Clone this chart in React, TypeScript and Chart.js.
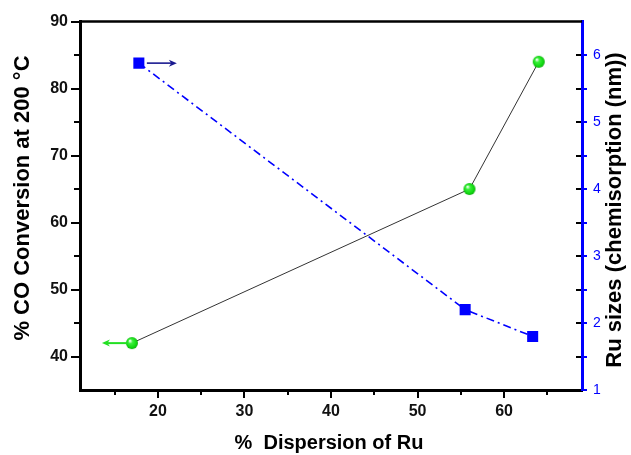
import React, { useEffect, useRef } from "react";
import { Chart, registerables } from "chart.js";

Chart.register(...registerables);

// ---- Data ----
const dispersionCO = [17, 56, 64];
const coConversion = [42, 65, 84];
const dispersionRu = [17.8, 55.5, 63.3];
const ruSizes = [5.88, 2.2, 1.8];

// ---- Ticks ----
const xMajor = [20, 30, 40, 50, 60];
const xMinor = [15, 25, 35, 45, 55, 65];
const yMajor = [40, 50, 60, 70, 80, 90];
const yMinor = [45, 55, 65, 75, 85];
const y1Major = [1, 2, 3, 4, 5, 6];
const y1Minor = [1.5, 2.5, 3.5, 4.5, 5.5];

const xTitle = "%  Dispersion of Ru";
const yTitle = "% CO Conversion at 200 °C";
const y1Title = "Ru sizes (chemisorption (nm))";

const FONT = "Arial, 'Liberation Sans', Helvetica, sans-serif";

function makeBall(r: number): HTMLCanvasElement {
  const c = document.createElement("canvas");
  const s = Math.ceil(r * 2 + 2);
  c.width = s;
  c.height = s;
  const g = c.getContext("2d")!;
  const cx = s / 2;
  const grad = g.createRadialGradient(cx - r * 0.35, cx - r * 0.4, r * 0.1, cx, cx, r);
  grad.addColorStop(0, "#e8ffe8");
  grad.addColorStop(0.3, "#3cf03c");
  grad.addColorStop(0.8, "#10d810");
  grad.addColorStop(1, "#0aa80a");
  g.fillStyle = grad;
  g.beginPath();
  g.arc(cx, cx, r, 0, Math.PI * 2);
  g.fill();
  return c;
}

function arrow(ctx: CanvasRenderingContext2D, x0: number, y: number, x1: number, color: string, w: number) {
  const dir = Math.sign(x1 - x0);
  const head = 8;
  ctx.save();
  ctx.strokeStyle = color;
  ctx.fillStyle = color;
  ctx.lineWidth = w;
  ctx.beginPath();
  ctx.moveTo(x0, y);
  ctx.lineTo(x1 - dir * head * 0.6, y);
  ctx.stroke();
  ctx.beginPath();
  ctx.moveTo(x1, y);
  ctx.lineTo(x1 - dir * head, y - 3.5);
  ctx.lineTo(x1 - dir * head * 0.7, y);
  ctx.lineTo(x1 - dir * head, y + 3.5);
  ctx.closePath();
  ctx.fill();
  ctx.restore();
}

const decorPlugin = {
  id: "decor",
  afterDatasetsDraw(chart: any) {
    const ctx = chart.ctx as CanvasRenderingContext2D;
    const xs = chart.scales.x;
    const ys = chart.scales.y;
    const y1s = chart.scales.y1;
    // arrows pointing to the axis each series belongs to
    const gx = xs.getPixelForValue(dispersionCO[0]);
    const gy = ys.getPixelForValue(coConversion[0]);
    arrow(ctx, gx - 5, gy, gx - 30, "#22e022", 2);
    const bx = xs.getPixelForValue(dispersionRu[0]);
    const by = y1s.getPixelForValue(ruSizes[0]);
    arrow(ctx, bx + 8, by, bx + 38, "#1a1a90", 1.6);
  },
  afterDraw(chart: any) {
    const ctx = chart.ctx as CanvasRenderingContext2D;
    const { left, right, top, bottom } = chart.chartArea;
    const xs = chart.scales.x;
    const ys = chart.scales.y;
    const y1s = chart.scales.y1;
    ctx.save();
    // top frame line
    ctx.strokeStyle = "#000";
    ctx.lineWidth = 2.5;
    ctx.beginPath();
    ctx.moveTo(left - 1, top);
    ctx.lineTo(right, top);
    ctx.stroke();

    ctx.lineWidth = 2;
    // left ticks
    const tickL = (vals: number[], len: number) => {
      vals.forEach((v) => {
        const p = Math.round(ys.getPixelForValue(v)) + 0.0;
        ctx.beginPath();
        ctx.moveTo(left - 1, p);
        ctx.lineTo(left - 1 - len, p);
        ctx.stroke();
      });
    };
    ctx.strokeStyle = "#000";
    tickL(yMajor, 8);
    tickL(yMinor, 5);
    // bottom ticks
    const tickB = (vals: number[], len: number) => {
      vals.forEach((v) => {
        const p = Math.round(xs.getPixelForValue(v));
        ctx.beginPath();
        ctx.moveTo(p, bottom + 1);
        ctx.lineTo(p, bottom + 1 + len);
        ctx.stroke();
      });
    };
    tickB(xMajor, 7);
    tickB(xMinor, 4);
    // right ticks: black inside, blue outside
    [...y1Major, ...y1Minor].forEach((v) => {
      const p = Math.round(y1s.getPixelForValue(v));
      ctx.strokeStyle = "#000";
      ctx.beginPath();
      ctx.moveTo(right - 1, p);
      ctx.lineTo(right - 6, p);
      ctx.stroke();
      ctx.strokeStyle = "#0000ff";
      ctx.beginPath();
      ctx.moveTo(right + 1, p);
      ctx.lineTo(right + 5, p);
      ctx.stroke();
    });

    // titles
    ctx.fillStyle = "#000";
    ctx.textAlign = "center";
    ctx.textBaseline = "alphabetic";
    ctx.font = `bold 20px ${FONT}`;
    ctx.fillText(xTitle, 329, 449);

    ctx.font = `bold 22px ${FONT}`;
    ctx.save();
    ctx.translate(29, 198);
    ctx.rotate(-Math.PI / 2);
    ctx.fillText(yTitle, 0, 0);
    ctx.restore();

    ctx.save();
    ctx.translate(621, 210);
    ctx.rotate(-Math.PI / 2);
    ctx.fillText(y1Title, 0, 0);
    ctx.restore();
    ctx.restore();
  },
};

export default function App() {
  const ref = useRef<HTMLCanvasElement>(null);
  useEffect(() => {
    if (!ref.current) return;
    const ball = makeBall(6);
    const chart = new Chart(ref.current, {
      type: "line",
      data: {
        datasets: [
          {
            label: "CO conversion",
            data: dispersionCO.map((x, i) => ({ x, y: coConversion[i] })),
            yAxisID: "y",
            borderColor: "#333333",
            borderWidth: 1,
            pointStyle: ball as any,
            pointRadius: 6,
            backgroundColor: "#22e022",
            tension: 0,
          },
          {
            label: "Ru size",
            data: dispersionRu.map((x, i) => ({ x, y: ruSizes[i] })),
            yAxisID: "y1",
            borderColor: "#0000ff",
            borderWidth: 1.6,
            borderDash: [8, 4, 2, 4],
            pointStyle: "rect",
            pointRadius: 7.8,
            pointBackgroundColor: "#0000ff",
            pointBorderColor: "#0000ff",
            pointBorderWidth: 0,
            tension: 0,
          },
        ],
      },
      options: {
        responsive: false,
        animation: false,
        layout: { padding: { top: 20, left: 0, right: 0, bottom: 0 } },
        plugins: { legend: { display: false }, tooltip: { enabled: false } },
        scales: {
          x: {
            type: "linear",
            position: "bottom",
            min: 11,
            max: 69,
            afterBuildTicks: (s: any) => {
              s.ticks = xMajor.map((v) => ({ value: v }));
            },
            afterFit: (s: any) => {
              s.height = 65;
            },
            ticks: {
              autoSkip: false,
              maxRotation: 0,
              padding: 12,
              color: "#111",
              font: { family: FONT, size: 16, weight: "bold" },
            },
            grid: { display: false, drawTicks: false },
            border: { display: true, color: "#000", width: 3 },
          },
          y: {
            type: "linear",
            position: "left",
            min: 35,
            max: 90,
            afterBuildTicks: (s: any) => {
              s.ticks = yMajor.map((v) => ({ value: v }));
            },
            afterFit: (s: any) => {
              s.width = 80;
            },
            ticks: {
              autoSkip: false,
              padding: 12,
              color: "#111",
              font: { family: FONT, size: 16, weight: "bold" },
            },
            grid: { display: false, drawTicks: false },
            border: { display: true, color: "#000", width: 3 },
          },
          y1: {
            type: "linear",
            position: "right",
            min: 1,
            max: 6.5,
            afterBuildTicks: (s: any) => {
              s.ticks = y1Major.map((v) => ({ value: v }));
            },
            afterFit: (s: any) => {
              s.width = 49;
            },
            ticks: {
              autoSkip: false,
              padding: 11,
              color: "#0000ff",
              font: { family: FONT, size: 14 },
            },
            grid: { display: false, drawTicks: false },
            border: { display: true, color: "#0000ff", width: 3 },
          },
        },
      },
      plugins: [decorPlugin],
    });
    return () => chart.destroy();
  }, []);
  return (
    <div style={{ position: "absolute", left: 0, top: 0, width: 631, height: 455, background: "#fff" }}>
      <canvas ref={ref} width={631} height={455} style={{ display: "block" }} />
    </div>
  );
}
